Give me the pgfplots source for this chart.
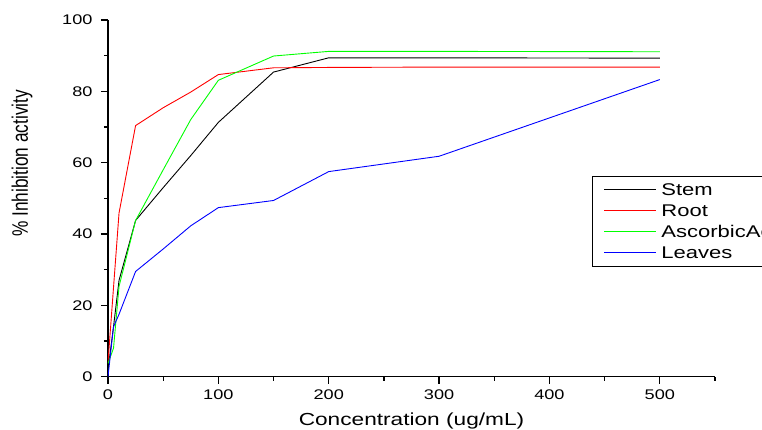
\documentclass[border=0pt]{standalone}
\usepackage{fontspec}
\setmainfont{Liberation Sans}[FakeStretch=1.3]
\newfontfamily\plainsans{Liberation Sans}
\usepackage{graphicx}
\usepackage{pgfplots}
\usepackage{pgfplotstable}
\pgfplotsset{compat=1.18}

% concentration vs % inhibition
\pgfplotstableread{
x    stem  root  asc   leaves
0    2.0   4.0   3.7   0.0
5    14.0  25.0  8.0   14.0
10   27.0  45.9  25.3  17.5
25   43.8  70.4  43.8  29.5
50   53.0  75.4  58.0  35.8
75   62.0  79.8  72.1  42.3
100  71.3  84.7  83.1  47.4
150  85.4  86.6  89.9  49.4
200  89.4  86.7  91.2  57.5
300  89.4  86.8  91.2  61.8
500  89.3  86.8  91.1  83.3
}\inhib

\begin{document}
\begin{tikzpicture}
\useasboundingbox (-108bp,-53.3bp) rectangle (654bp,376.7bp);
\clip (-108bp,-53.3bp) rectangle (654bp,376.7bp);
\begin{axis}[
  at={(0,0)}, anchor=south west,
  scale only axis, width=607bp, height=356.7bp,
  xmin=0, xmax=550, ymin=0, ymax=100,
  axis lines=left, axis line style={-, line width=1.4bp},
  xtick={0,100,...,500}, ytick={0,20,...,100},
  minor xtick={50,150,...,550}, minor ytick={10,30,...,90},
  tick align=outside, major tick length=7bp, minor tick length=4bp,
  tick style={line width=1.2bp, black},
  tick label style={font=\fontsize{14}{16}\selectfont},
  xticklabel style={yshift=-3bp},
  yticklabel style={xshift=-5bp},
  /pgf/number format/assume math mode=true,
  xlabel={Concentration (ug/mL)},
  ylabel={\scalebox{1}[1.3]{\plainsans\fontsize{17.3}{20}\selectfont \% Inhibition activity}},
  every axis x label/.style={at={(axis description cs:0.5,-0.138)}, anchor=base, font=\fontsize{17.5}{20}\selectfont},
  every axis y label/.style={at={(axis description cs:-0.1417,0.598)}, anchor=center, rotate=90},
  legend style={at={(axis description cs:0.797,0.5627)}, anchor=north west,
    line width=1bp, font=\fontsize{17}{20}\selectfont,
    row sep=3.6bp, inner xsep=11.5bp, inner ysep=5bp},
  legend cell align=left,
  legend image code/.code={\draw[#1, line width=1.3bp] (0bp,0.3bp) -- (52bp,0.3bp);
    \path[draw=none] (0bp,0bp) -- (55bp,0bp);},
  every axis plot/.append style={line width=0.9bp},
]
\addplot[black] table[x=x, y=stem] {\inhib};
\addlegendentry{Stem}
\addplot[red] table[x=x, y=root] {\inhib};
\addlegendentry{Root}
\addplot[green] table[x=x, y=asc] {\inhib};
\addlegendentry{AscorbicAcid}
\addplot[blue] table[x=x, y=leaves] {\inhib};
\addlegendentry{Leaves}
\end{axis}
\end{tikzpicture}
\end{document}
